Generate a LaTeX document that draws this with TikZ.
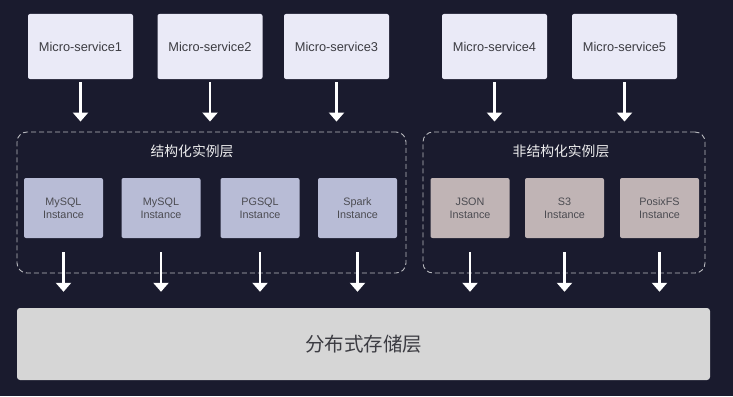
\documentclass[tikz,border=0pt]{standalone}
\usepackage{fontspec}
\setmainfont{Liberation Sans}
\newfontfamily\cjkfont{Noto Sans CJK SC}
\usetikzlibrary{arrows.meta,positioning}
\definecolor{bgnavy}{RGB}{26,27,46}
\definecolor{svcfill}{RGB}{234,234,247}
\definecolor{sqlfill}{RGB}{184,188,214}
\definecolor{nosqlfill}{RGB}{192,180,181}
\definecolor{storefill}{RGB}{214,214,214}
\definecolor{inktext}{RGB}{60,60,66}

\begin{document}
\begin{tikzpicture}[
        x=1pt, y=-1pt,
        svc/.style={rounded corners=2pt, fill=svcfill, minimum width=105pt, minimum height=65pt, inner sep=0pt,
                    text=inktext, font=\fontsize{12.8}{15}\selectfont},
        inst/.style={rounded corners=2pt, minimum width=79pt, minimum height=60pt, inner sep=0pt, align=center,
                     text=inktext!92, font=\fontsize{10.8}{13}\selectfont},
        sqlbox/.style={inst, fill=sqlfill},
        nosqlbox/.style={inst, fill=nosqlfill},
        grp/.style={draw=white!70!bgnavy, dashed, dash pattern=on 5pt off 3pt, line width=0.9pt, rounded corners=10pt, inner sep=0pt},
        ttl/.style={text=white!92!bgnavy, font=\cjkfont\fontsize{13.8}{16}\selectfont},
        arr/.style={-{Triangle[width=15pt,length=9pt]}, line width=2.6pt, draw=white}
      ]
        \fill[bgnavy] (0,0) rectangle (733,396);
        \useasboundingbox (0,0) rectangle (733,396);

        % services
        \node[svc] (ms1) at (80.5,46.5) {Micro-service1};
        \node[svc] (ms2) at (210,46.5) {Micro-service2};
        \node[svc] (ms3) at (336.5,46.5) {Micro-service3};
        \node[svc] (ms4) at (494.5,46.5) {Micro-service4};
        \node[svc] (ms5) at (624.5,46.5) {Micro-service5};

        % instance layers
        \node[grp, minimum width=389pt, minimum height=141pt] (structured) at (211.5,202.5) {};
        \node[grp, minimum width=282pt, minimum height=141pt] (unstructured) at (564,202.5) {};
        \node[ttl] (structtitle) at (192,151) {结构化实例层};
        \node[ttl] (unstructtitle) at (561,151) {非结构化实例层};

        \node[sqlbox] (mysqla) at (63.5,208) {MySQL\\Instance};
        \node[sqlbox] (mysqlb) at (161,208) {MySQL\\Instance};
        \node[sqlbox] (pgsql) at (260,208) {PGSQL\\Instance};
        \node[sqlbox] (spark) at (357.5,208) {Spark\\Instance};
        \node[nosqlbox] (json) at (470,208) {JSON\\Instance};
        \node[nosqlbox] (sthree) at (564.5,208) {S3\\Instance};
        \node[nosqlbox] (posix) at (659.5,208) {PosixFS\\Instance};

        % storage
        \node[rounded corners=3pt, fill=storefill, minimum width=693pt, minimum height=72pt, inner sep=0pt,
              text=inktext, font=\cjkfont\fontsize{19.5}{22}\selectfont] (storage) at (363.5,344) {分布式存储层};

        \draw[arr, shorten <=3pt, shorten >=10pt] (ms1) -- (ms1 |- structured.north);
        \draw[arr, shorten <=3pt, shorten >=10pt] (ms2) -- (ms2 |- structured.north);
        \draw[arr, shorten <=3pt, shorten >=10pt] (ms3) -- (ms3 |- structured.north);
        \draw[arr, shorten <=3pt, shorten >=10pt] (ms4) -- (ms4 |- unstructured.north);
        \draw[arr, shorten <=3pt, shorten >=10pt] (ms5) -- (ms5 |- unstructured.north);

        \draw[arr, shorten <=14pt, shorten >=16pt] (mysqla) -- (mysqla |- storage.north);
        \draw[arr, shorten <=14pt, shorten >=16pt] (mysqlb) -- (mysqlb |- storage.north);
        \draw[arr, shorten <=14pt, shorten >=16pt] (pgsql) -- (pgsql |- storage.north);
        \draw[arr, shorten <=14pt, shorten >=16pt] (spark) -- (spark |- storage.north);
        \draw[arr, shorten <=14pt, shorten >=16pt] (json) -- (json |- storage.north);
        \draw[arr, shorten <=14pt, shorten >=16pt] (sthree) -- (sthree |- storage.north);
        \draw[arr, shorten <=14pt, shorten >=16pt] (posix) -- (posix |- storage.north);
      \end{tikzpicture}
\end{document}
